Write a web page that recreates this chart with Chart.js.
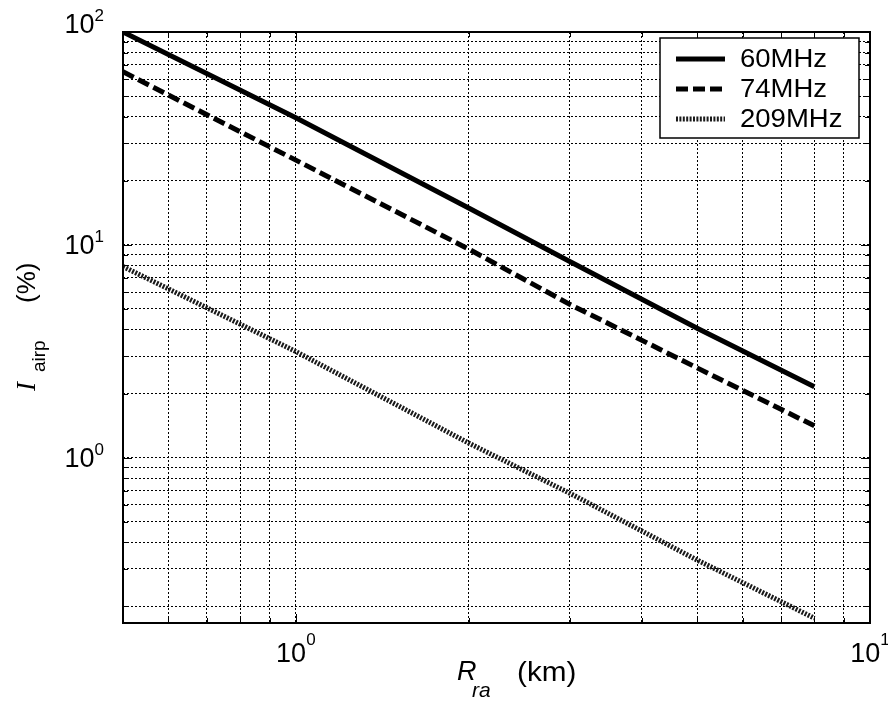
<!DOCTYPE html>
<html>
<head>
<meta charset="utf-8">
<script src="https://cdn.jsdelivr.net/npm/chart.js@4/dist/chart.umd.min.js"></script>
<style>
  html, body { margin: 0; padding: 0; background: #fff; }
  canvas { display: block; }
</style>
</head>
<body>
<canvas id="chart" width="888" height="703"></canvas>
<script>
// Distance from the radio station (km)
const rangeKm = [0.5, 1, 2, 3, 5, 8];
// Interference level I_airp (%) per carrier frequency
const airp60 = [100, 39.5, 14.9, 8.35, 4.05, 2.15];
const airp74 = [65, 25, 9.55, 5.25, 2.64, 1.41];
const airp209 = [7.9, 3.15, 1.17, 0.68, 0.33, 0.176];
const seriesLabels = ['60MHz', '74MHz', '209MHz'];

// Axis limits and decade labels
const xLimits = [0.5, 10];
const yLimits = [0.167, 100];
const xMajorTicks = [1, 10];
const xTickExponents = ['0', '1'];
const yMajorTicks = [1, 10, 100];
const yTickExponents = ['0', '1', '2'];

const SANS = '"Liberation Sans", Arial, Helvetica, sans-serif';
const SERIF = '"Liberation Serif", "Times New Roman", serif';

// 1..9 steps of every decade inside [lo, hi]
function decadeGrid(lo, hi) {
  const out = [];
  for (let e = Math.floor(Math.log10(lo)); e <= Math.ceil(Math.log10(hi)); e++) {
    for (let m = 1; m <= 9; m++) {
      const v = +(m * Math.pow(10, e)).toPrecision(6);
      if (v >= lo - 1e-9 && v <= hi + 1e-9) out.push(v);
    }
  }
  return out;
}
const xGrid = decadeGrid(xLimits[0], xLimits[1]);
const yGrid = decadeGrid(yLimits[0], yLimits[1]);

const toPoints = ys => rangeKm.map((x, i) => ({ x: x, y: ys[i] }));

const datasets = [
  { label: seriesLabels[0], data: toPoints(airp60), borderColor: '#000', borderWidth: 5, borderDash: [] },
  { label: seriesLabels[1], data: toPoints(airp74), borderColor: '#000', borderWidth: 5, borderDash: [12, 5] },
  { label: seriesLabels[2], data: toPoints(airp209), borderColor: '#1a1a1a', borderWidth: 5, borderDash: [2, 1.4] }
].map(d => Object.assign(d, { pointRadius: 0, tension: 0, fill: false, borderCapStyle: 'butt' }));

// text drawn slightly wider than the font's natural width
function wideText(ctx, text, x, y, sx) {
  ctx.save();
  ctx.translate(x, y);
  ctx.scale(sx, 1);
  ctx.fillText(text, 0, 0);
  ctx.restore();
  return ctx.measureText(text).width * sx;
}

// Frame, inner tick marks, power-of-ten labels, axis titles and legend
const decorations = {
  id: 'decorations',
  afterDraw(chart) {
    const ctx = chart.ctx;
    const a = chart.chartArea;
    const xs = chart.scales.x, ys = chart.scales.y;
    ctx.save();

    // inner tick marks
    ctx.strokeStyle = '#000';
    ctx.lineWidth = 1;
    ctx.setLineDash([]);
    xGrid.forEach(v => {
      const px = Math.round(xs.getPixelForValue(v)) + 0.5;
      const len = xMajorTicks.includes(v) ? 9 : 5;
      ctx.beginPath();
      ctx.moveTo(px, a.bottom); ctx.lineTo(px, a.bottom - len);
      ctx.moveTo(px, a.top); ctx.lineTo(px, a.top + len);
      ctx.stroke();
    });
    yGrid.forEach(v => {
      const py = Math.round(ys.getPixelForValue(v)) + 0.5;
      const len = yMajorTicks.includes(v) ? 9 : 5;
      ctx.beginPath();
      ctx.moveTo(a.left, py); ctx.lineTo(a.left + len, py);
      ctx.moveTo(a.right, py); ctx.lineTo(a.right - len, py);
      ctx.stroke();
    });

    // frame
    ctx.lineWidth = 2;
    ctx.strokeRect(a.left, a.top, a.right - a.left, a.bottom - a.top);

    // tick labels 10^n
    ctx.fillStyle = '#000';
    ctx.textBaseline = 'alphabetic';
    ctx.textAlign = 'left';
    const baseFont = '27px ' + SANS;
    const expFont = '17px ' + SANS;
    xMajorTicks.forEach((v, i) => {
      const px = xs.getPixelForValue(v);
      ctx.font = baseFont;
      const wb = ctx.measureText('10').width;
      ctx.font = expFont;
      const we = ctx.measureText(xTickExponents[i]).width;
      const x0 = px - (wb + we) / 2;
      ctx.font = baseFont;
      ctx.fillText('10', x0, 662);
      ctx.font = expFont;
      ctx.fillText(xTickExponents[i], x0 + wb, 645);
    });
    yMajorTicks.forEach((v, i) => {
      let py = ys.getPixelForValue(v);
      if (py < a.top + 4) py -= 8;
      ctx.font = expFont;
      const we = ctx.measureText(yTickExponents[i]).width;
      ctx.font = baseFont;
      const wb = ctx.measureText('10').width;
      const right = 104;
      ctx.fillText('10', right - we - wb, py + 9);
      ctx.font = expFont;
      ctx.fillText(yTickExponents[i], right - we, py - 3);
    });

    // x axis title: R_ra (km)
    ctx.font = 'italic 27px ' + SANS;
    ctx.fillText('R', 457, 680);
    ctx.font = 'italic 21px ' + SANS;
    ctx.fillText('ra', 472, 697);
    ctx.font = '27px ' + SANS;
    wideText(ctx, '(km)', 517, 681, 1.1);

    // y axis title: I_airp (%)
    ctx.save();
    ctx.translate(35, 391);
    ctx.rotate(-Math.PI / 2);
    ctx.font = 'italic 27px ' + SERIF;
    ctx.fillText('I', 0, 0);
    ctx.font = '19px ' + SANS;
    ctx.fillText('airp', 19, 10);
    ctx.font = '26px ' + SANS;
    ctx.fillText('(%)', 88, 0);
    ctx.restore();

    // legend
    const box = { x: 660, y: 38, w: 199, h: 100 };
    ctx.fillStyle = '#fff';
    ctx.fillRect(box.x, box.y, box.w, box.h);
    ctx.strokeStyle = '#000';
    ctx.lineWidth = 1.5;
    ctx.strokeRect(box.x, box.y, box.w, box.h);
    const rows = [59, 89, 119];
    chart.data.datasets.forEach((ds, i) => {
      const yy = rows[i];
      ctx.save();
      ctx.strokeStyle = ds.borderColor;
      ctx.lineWidth = ds.borderWidth;
      ctx.lineCap = 'butt';
      ctx.setLineDash(ds.borderDash || []);
      ctx.beginPath();
      ctx.moveTo(676, yy);
      ctx.lineTo(725, yy);
      ctx.stroke();
      ctx.restore();
      ctx.fillStyle = '#000';
      ctx.font = '25px ' + SANS;
      ctx.textBaseline = 'middle';
      wideText(ctx, ds.label, 740, yy + 1, 1.1);
    });

    ctx.restore();
  }
};

const gridStyle = { color: '#000', lineWidth: 1, drawTicks: false };
const borderStyle = { display: false, dash: [2, 2] };

new Chart(document.getElementById('chart').getContext('2d'), {
  type: 'line',
  data: { datasets: datasets },
  options: {
    responsive: false,
    animation: false,
    devicePixelRatio: 1,
    events: [],
    layout: { padding: { top: 32, right: 18, left: 0, bottom: 0 } },
    plugins: {
      legend: { display: false },
      tooltip: { enabled: false },
      title: { display: false }
    },
    scales: {
      x: {
        type: 'logarithmic',
        min: xLimits[0],
        max: xLimits[1],
        ticks: { display: false },
        grid: gridStyle,
        border: borderStyle,
        afterBuildTicks: s => { s.ticks = xGrid.map(v => ({ value: v })); },
        afterFit: s => { s.height = 80; }
      },
      y: {
        type: 'logarithmic',
        min: yLimits[0],
        max: yLimits[1],
        ticks: { display: false },
        grid: gridStyle,
        border: borderStyle,
        afterBuildTicks: s => { s.ticks = yGrid.map(v => ({ value: v })); },
        afterFit: s => { s.width = 123; }
      }
    }
  },
  plugins: [decorations]
});
</script>
</body>
</html>
